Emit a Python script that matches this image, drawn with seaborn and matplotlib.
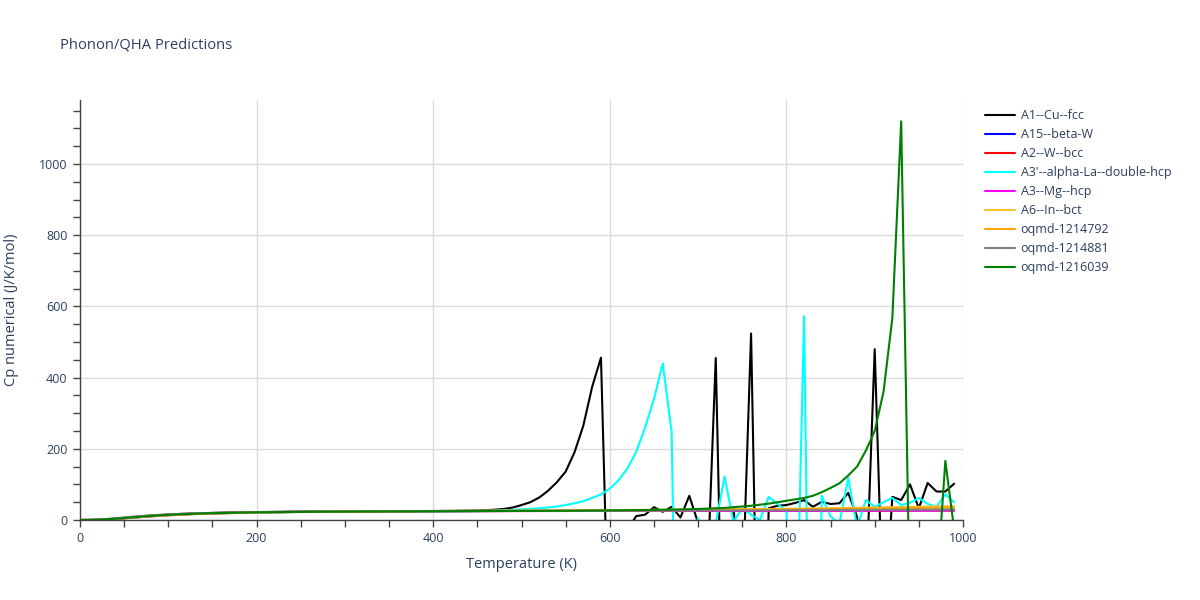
import matplotlib
matplotlib.use("Agg")
import matplotlib.pyplot as plt
import pandas as pd
import seaborn as sns
from matplotlib.ticker import MultipleLocator

# temperature grid of the spiky series (10 K steps)
temperature = list(range(0, 1000, 10))
# coarser grid for the smooth, mostly hidden series
temperature_smooth = [0, 10, 20, 30, 40, 50, 60, 80, 100, 125, 150, 200, 250,
                      300, 400, 500, 600, 700, 800, 900, 990]

cu_fcc = [0, 0.1, 0.5, 1.8, 3.8, 6.0, 8.2, 10.3, 12.2, 14.0,
          15.4, 16.6, 17.6, 18.5, 19.3, 19.9, 20.5, 21.0, 21.4, 21.8,
          22.2, 22.5, 22.8, 23.0, 23.2, 23.4, 23.6, 23.8, 23.9, 24.0,
          24.2, 24.3, 24.4, 24.5, 24.6, 24.7, 24.8, 24.9, 25.0, 25.1,
          25.3, 25.5, 25.7, 26.0, 26.3, 26.8, 27.5, 29, 31, 35,
          42, 50, 63, 82, 106, 136, 190, 265, 374, 456,
          -456, -200, -26, 11, 15, 36, 23, 37, 7, 68,
          -8, -195, 455, -680, 35, -225, 524, -786, 33, 40,
          42, 48, 56, 37, 51, 45, 47, 76, 9, -206,
          480, -320, 65, 56, 100, 33, 104, 80, 80, 102]

la_dhcp = [0, 0.1, 0.6, 1.7, 3.2, 5.0, 7.0, 9.0, 10.8, 12.5,
           13.9, 15.1, 16.2, 17.1, 17.9, 18.6, 19.2, 19.8, 20.3, 20.7,
           21.1, 21.5, 21.8, 22.1, 22.4, 22.6, 22.8, 23.0, 23.2, 23.3,
           23.4, 23.5, 23.6, 23.7, 23.8, 23.9, 24.0, 24.1, 24.2, 24.3,
           24.4, 24.5, 24.6, 24.8, 25.0, 25.3, 25.7, 26.3, 27.2, 28.5,
           30, 31, 33, 35, 38, 42, 47, 53, 62, 72,
           88, 112, 145, 192, 260, 340, 440, 248, -1200, -100,
           5, -60, -10, 122, -5, 33, 15, 0, 65, 45,
           25, -508, 573, -1337, 68, 10, -10, 118, -20, 56,
           37, 50, 62, 42, 48, 62, 45, 37, 72, 50]

oqmd_1216039 = [0, 0.2, 0.8, 2.0, 3.5, 5.5, 7.5, 9.5, 11.3, 13.0,
                14.4, 15.6, 16.7, 17.6, 18.4, 19.1, 19.7, 20.2, 20.7, 21.1,
                21.5, 21.8, 22.1, 22.4, 22.6, 22.8, 23.0, 23.2, 23.3, 23.4,
                23.5, 23.6, 23.7, 23.8, 23.9, 24.0, 24.1, 24.2, 24.3, 24.4,
                24.5, 24.6, 24.7, 24.8, 24.9, 25.0, 25.1, 25.2, 25.3, 25.4,
                25.5, 25.6, 25.7, 25.8, 25.9, 26.0, 26.2, 26.4, 26.6, 26.8,
                27.0, 27.2, 27.5, 27.8, 28.1, 28.4, 28.8, 29.3, 29.8, 30.4,
                31, 32, 33, 34, 36, 38, 40, 43, 46, 50,
                54, 58, 62, 68, 78, 90, 103, 125, 150, 195,
                250, 360, 568, 1120, -280, -300, -250, -200, 166, -27]

w_a15 = [0, 0.1, 0.6, 1.8, 3.5, 5.5, 7.5, 11, 14, 16.8, 18.8, 21.3, 22.8,
         23.8, 24.8, 25.4, 25.9, 26.3, 26.7, 27.1, 27.5]
w_bcc = [0, 0.1, 0.4, 1.3, 2.8, 4.6, 6.5, 10, 13.2, 16.2, 18.3, 21, 22.6,
         23.6, 24.6, 25.1, 25.5, 25.9, 26.2, 26.6, 26.9]
mg_hcp = [0, 0.1, 0.5, 1.5, 3.2, 5.2, 7.2, 10.8, 14, 17, 19.1, 21.8, 23.3,
          24.3, 25.1, 25.5, 25.8, 26.0, 26.2, 26.4, 26.6]
in_bct = [0, 0.2, 0.9, 2.3, 4.2, 6.2, 8.3, 11.8, 14.7, 17.5, 19.3, 21.6, 23.0,
          24.0, 25.3, 26.4, 27.7, 29.4, 31.5, 35, 39]
oqmd_1214792 = [0, 0.1, 0.6, 1.7, 3.3, 5.2, 7.2, 10.6, 13.6, 16.6, 18.6, 21.2, 22.7,
                23.7, 24.9, 25.8, 26.9, 28.2, 30, 32.5, 35]
oqmd_1214881 = [0, 0.2, 1.0, 2.8, 5, 7.3, 9.5, 13, 15.8, 18.3, 20, 22.2, 23.4,
                24.2, 25.0, 25.5, 26.0, 26.6, 27.4, 28.4, 29.5]

names = ["A1--Cu--fcc", "A15--beta-W", "A2--W--bcc", "A3'--alpha-La--double-hcp",
         "A3--Mg--hcp", "A6--In--bct", "oqmd-1214792", "oqmd-1214881", "oqmd-1216039"]
colors = ["#000000", "#0000ff", "#ff0000", "#00ffff", "#ff00ff",
          "#f2c233", "#ffa500", "#808080", "#008000"]

series = [
    (temperature, cu_fcc),
    (temperature_smooth, w_a15),
    (temperature_smooth, w_bcc),
    (temperature, la_dhcp),
    (temperature_smooth, mg_hcp),
    (temperature_smooth, in_bct),
    (temperature_smooth, oqmd_1214792),
    (temperature_smooth, oqmd_1214881),
    (temperature, oqmd_1216039),
]

frames = []
for name, (t, cp) in zip(names, series):
    frames.append(pd.DataFrame({"Temperature": t, "Cp": cp, "phase": name}))
df = pd.concat(frames, ignore_index=True)

sns.set_style("white")
plt.rcParams["font.family"] = ["Open Sans", "DejaVu Sans"]

text_color = "#2a3f5f"

fig = plt.figure(figsize=(12, 6), dpi=100)
ax = fig.add_axes([80 / 1200, 80 / 600, 883 / 1200, 420 / 600])

sns.lineplot(data=df, x="Temperature", y="Cp", hue="phase", hue_order=names,
             palette=dict(zip(names, colors)), estimator=None, linewidth=1.5, ax=ax)

ax.set_xlim(0, 1000)
ax.set_ylim(0, 1180)

ax.xaxis.set_major_locator(MultipleLocator(200))
ax.xaxis.set_minor_locator(MultipleLocator(50))
ax.yaxis.set_major_locator(MultipleLocator(200))
ax.yaxis.set_minor_locator(MultipleLocator(50))
ax.grid(which="major", color="#dcdcdc", linewidth=1)
ax.tick_params(which="both", direction="out", length=5, width=1, color="#444444",
               labelcolor=text_color, labelsize=9, bottom=True, left=True)
ax.tick_params(which="major", pad=4)
for side in ["top", "right"]:
    ax.spines[side].set_visible(False)
for side in ["left", "bottom"]:
    ax.spines[side].set_color("#444444")
    ax.spines[side].set_linewidth(1)

ax.set_xlabel("Temperature (K)", fontsize=10.5, color=text_color, va="center")
ax.xaxis.set_label_coords(0.5, -(564 - 520) / 420)
ax.set_ylabel("Cp numerical (J/K/mol)", fontsize=10.5, color=text_color, va="center")
ax.yaxis.set_label_coords(-(80 - 12) / 883, 0.5)

fig.text(60 / 1200, 1 - 45 / 600, "Phonon/QHA Predictions", fontsize=10.6,
         color=text_color, va="center", ha="left")

handles, labels = ax.get_legend_handles_labels()
ax.legend(handles, labels, loc="upper left", bbox_to_anchor=(985 / 1200, 1 - 109 / 600),
          bbox_transform=fig.transFigure, frameon=False, fontsize=9,
          handlelength=2.4, handletextpad=0.45, labelspacing=0.48,
          borderaxespad=0, borderpad=0, labelcolor=text_color)

fig.savefig("out.png", dpi=100)
